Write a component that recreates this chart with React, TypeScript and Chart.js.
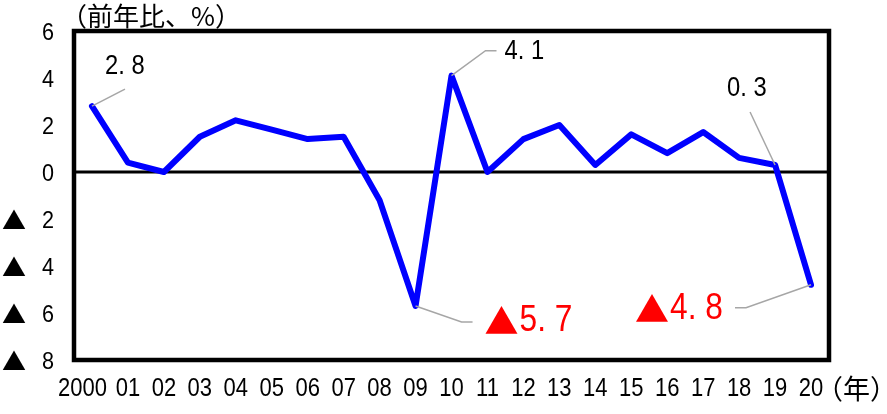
import { useEffect, useRef } from "react";
import { Chart, registerables } from "chart.js";

Chart.register(...registerables);

const years = ["2000", "01", "02", "03", "04", "05", "06", "07", "08", "09", "10", "11", "12", "13", "14", "15", "16", "17", "18", "19", "20"];
const growth = [2.8, 0.4, 0.0, 1.5, 2.2, 1.8, 1.4, 1.5, -1.2, -5.7, 4.1, 0.0, 1.4, 2.0, 0.3, 1.6, 0.8, 1.7, 0.6, 0.3, -4.8];
const yMin = -8;
const yMax = 6;
const yStep = 2;
const titleText = "（前年比、%）";
const unitText = "（年）";
const negMark = "▲";
const calloutIndex = [0, 9, 10, 19, 20];
const calloutText = ["2. 8", "5. 7", "4. 1", "0. 3", "4. 8"];
const calloutNegative = [false, true, false, false, true];

const NUM_FONT = '"Liberation Sans", sans-serif';
const CJK_FONT = '"Noto Sans CJK JP", sans-serif';

// leader geometry relative to the data point
const calloutStyle: any[] = [
  { pts: [[33, -17]], tx: 13, ty: -40, color: "#000", size: 27 },
  { pts: [[46, 16], [57, 16]], tx: 69, ty: 15, color: "#ff0000", size: 36 },
  { pts: [[34, -25], [45, -25]], tx: 53, ty: -24, color: "#000", size: 27 },
  { pts: [[-25, -53]], tx: -48, ty: -76, color: "#000", size: 27 },
  { pts: [[-65, 23], [-76, 23]], tx: -176, ty: 24, color: "#ff0000", size: 36 },
];

function drawNum(ctx: any, text: string, x: number, y: number, size: number, sx: number, align: string) {
  ctx.save();
  ctx.font = `${size}px ${NUM_FONT}`;
  ctx.textBaseline = "middle";
  ctx.textAlign = "left";
  const w = ctx.measureText(text).width * sx;
  let x0 = x;
  if (align === "center") x0 = x - w / 2;
  else if (align === "right") x0 = x - w;
  ctx.translate(x0, y);
  ctx.scale(sx, 1);
  ctx.fillText(text, 0, 0);
  ctx.restore();
  return w;
}

const decor = {
  id: "decor",
  beforeDatasetsDraw(chart: any) {
    const { ctx, chartArea, scales } = chart;
    const y0 = scales.y.getPixelForValue(0);
    ctx.save();
    ctx.strokeStyle = "#000";
    ctx.lineWidth = 3;
    ctx.beginPath();
    ctx.moveTo(chartArea.left, y0);
    ctx.lineTo(chartArea.right, y0);
    ctx.stroke();
    ctx.restore();
  },
  afterDatasetsDraw(chart: any) {
    const { ctx, chartArea, scales } = chart;
    ctx.save();
    ctx.strokeStyle = "#000";
    ctx.lineWidth = 4.5;
    ctx.strokeRect(chartArea.left, chartArea.top, chartArea.right - chartArea.left, chartArea.bottom - chartArea.top);

    // y tick labels
    ctx.fillStyle = "#000";
    for (let v = yMin; v <= yMax; v += yStep) {
      const py = scales.y.getPixelForValue(v);
      drawNum(ctx, String(Math.abs(v)), 54, py + 2, 24, 0.9, "right");
      if (v < 0) {
        ctx.font = `24px ${CJK_FONT}`;
        ctx.textAlign = "center";
        ctx.textBaseline = "middle";
        ctx.fillText(negMark, 14, py + 1);
      }
    }

    // x tick labels
    years.forEach((lab, i) => {
      const px = scales.x.getPixelForValue(i);
      ctx.font = `25px ${NUM_FONT}`;
      const w = ctx.measureText(lab).width * 0.88;
      const cx = Math.min(px, px + 15 - w / 2);
      drawNum(ctx, lab, cx, 389, 25, 0.88, "center");
    });

    // callouts
    calloutIndex.forEach((idx, k) => {
      const s = calloutStyle[k];
      const px = scales.x.getPixelForValue(idx);
      const py = scales.y.getPixelForValue(growth[idx]);
      ctx.strokeStyle = "#a6a6a6";
      ctx.lineWidth = 1.5;
      ctx.beginPath();
      ctx.moveTo(px, py);
      s.pts.forEach((p: number[]) => ctx.lineTo(px + p[0], py + p[1]));
      ctx.stroke();
      ctx.fillStyle = s.color;
      let x = px + s.tx;
      if (calloutNegative[k]) {
        ctx.font = `34px ${CJK_FONT}`;
        ctx.textAlign = "left";
        ctx.textBaseline = "middle";
        ctx.fillText(negMark, x, py + s.ty);
        x += 35;
      }
      drawNum(ctx, calloutText[k], x, py + s.ty, s.size, 0.88, "left");
    });

    // title and unit
    ctx.fillStyle = "#000";
    ctx.font = `26px ${CJK_FONT}`;
    ctx.textAlign = "left";
    ctx.textBaseline = "middle";
    ctx.fillText(titleText, 61, 16);
    ctx.font = `27px ${CJK_FONT}`;
    ctx.fillText(unitText, 816, 389);
    ctx.restore();
  },
};

export default function App() {
  const ref = useRef<HTMLCanvasElement>(null);
  useEffect(() => {
    document.body.style.margin = "0";
    const chart = new Chart(ref.current!, {
      type: "line",
      data: {
        labels: years,
        datasets: [
          {
            data: growth,
            borderColor: "#0000ff",
            borderWidth: 6,
            pointRadius: 0,
            borderCapStyle: "round",
            borderJoinStyle: "round",
            tension: 0,
          },
        ],
      },
      options: {
        animation: false,
        responsive: false,
        maintainAspectRatio: false,
        layout: { padding: { top: 31, right: 58, left: 0, bottom: 0 } },
        plugins: { legend: { display: false }, tooltip: { enabled: false }, title: { display: false } },
        scales: {
          x: {
            offset: true,
            grid: { display: false, drawTicks: false },
            border: { display: false },
            ticks: { display: false, autoSkip: false },
            afterFit(scale: any) {
              scale.height = 54;
            },
          },
          y: {
            min: yMin,
            max: yMax,
            grid: { display: false, drawTicks: false },
            border: { display: false },
            ticks: { display: false, stepSize: yStep },
            afterFit(scale: any) {
              scale.width = 74;
            },
          },
        },
      },
      plugins: [decor],
    });
    return () => chart.destroy();
  }, []);
  return (
    <div style={{ width: 887, height: 414 }}>
      <canvas ref={ref} width={887} height={414} style={{ display: "block" }} />
    </div>
  );
}
